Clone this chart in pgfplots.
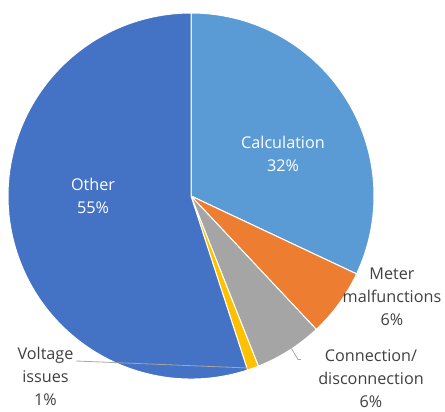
\documentclass[border=0pt]{standalone}
\usepackage{pgfplots}
\pgfplotsset{compat=1.18}
\usepackage{pgfplotstable}
\usepackage{fontspec}
\setmainfont{Open Sans}

\definecolor{calc}{HTML}{5B9BD5}
\definecolor{meter}{HTML}{ED7D31}
\definecolor{conn}{HTML}{A5A5A5}
\definecolor{volt}{HTML}{FFC000}
\definecolor{other}{HTML}{4472C4}
\definecolor{labeltext}{HTML}{404040}
\definecolor{leader}{HTML}{A6A6A6}

% share of complaints by cause (percent), clockwise from the top
\pgfplotstableread{
share colour
32 calc
6  meter
6  conn
1  volt
55 other
}\slices

\newcommand\cx{191}
\newcommand\cy{216}
\newcommand\rad{183}

\begin{document}
\begin{tikzpicture}
\useasboundingbox (0,0) rectangle (445pt,412pt);
\begin{axis}[
  x=1pt, y=1pt, xmin=0, xmax=445, ymin=0, ymax=412,
  scale only axis, hide axis, clip=false,
  anchor=origin, at={(0,0)},
  disabledatascaling,
]
\pgfplotstablegetrowsof{\slices}
\pgfmathtruncatemacro\lastrow{\pgfplotsretval-1}
\def\cumul{0}
\pgfplotsforeachungrouped \i in {0,...,\lastrow}{%
  \pgfplotstablegetelem{\i}{share}\of\slices
  \let\val\pgfplotsretval
  \pgfplotstablegetelem{\i}{colour}\of\slices
  \let\slicecol\pgfplotsretval
  \pgfmathsetmacro\angA{90-3.6*\cumul}
  \pgfmathsetmacro\angB{90-3.6*(\cumul+\val)}
  \pgfmathsetmacro\sx{\cx+\rad*cos(\angA)}
  \pgfmathsetmacro\sy{\cy+\rad*sin(\angA)}
  \edef\doslice{\noexpand\fill[\slicecol, draw=white, line width=1pt, line join=round]
    (axis cs:\cx,\cy) -- (axis cs:\sx,\sy)
    arc[start angle=\angA, end angle=\angB, radius=\rad pt] -- cycle;}%
  \doslice
  \pgfmathsetmacro\cumul{\cumul+\val}%
}

% leader lines
\draw[leader, line width=0.8pt] (axis cs:76,51) -- (axis cs:248,44);
\draw[leader, line width=0.8pt] (axis cs:291.5,63.5) -- (axis cs:298,52.5) -- (axis cs:301,52.5);

% data labels
\tikzset{lbl/.style={align=center, inner sep=0pt, font=\fontsize{16.2}{23}\selectfont}}
\node[lbl, white] at (axis cs:283,258.5) {Calculation\\32\%};
\node[lbl, white] at (axis cs:93,216) {Other\\55\%};
\node[lbl, labeltext] at (axis cs:392,115) {Meter\\malfunctions\\6\%};
\node[lbl, labeltext] at (axis cs:371,33) {Connection/\\disconnection\\6\%};
\node[lbl, labeltext] at (axis cs:45.5,35.5) {Voltage\\issues\\1\%};
\end{axis}
\end{tikzpicture}
\end{document}
